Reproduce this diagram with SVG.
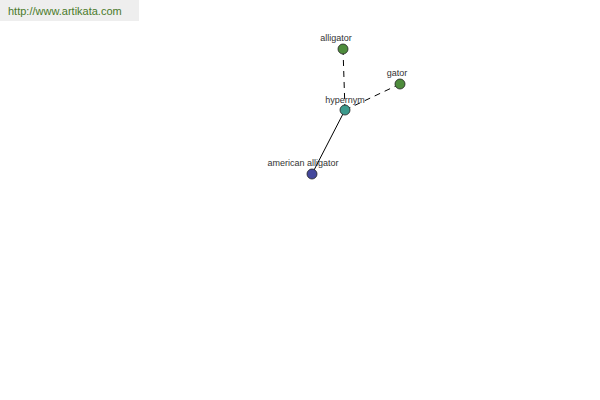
<svg xmlns="http://www.w3.org/2000/svg" width="600" height="400" viewBox="0 0 600 400">
<style>
.lbl{font-family:"Liberation Sans",Arial,sans-serif;font-size:9px;fill:#333;text-anchor:middle}
.node{stroke:#222;stroke-width:0.8}
.e{stroke:#000;stroke-width:1;fill:none}
.d{stroke-dasharray:6,5}
</style>
<rect x="0" y="0" width="139" height="21" fill="#eeeeee"/>
<text x="8" y="15" font-family="Liberation Sans,Arial,sans-serif" font-size="11" fill="#4a7a2a">http://www.artikata.com</text>
<g id="connectors">
<line class="e d" x1="343" y1="49" x2="345" y2="110"/>
<line class="e d" x1="400" y1="84" x2="345" y2="110"/>
<line class="e" x1="345" y1="110" x2="312" y2="174"/>
</g>
<g id="n-alligator"><circle class="node" cx="343" cy="49" r="5" fill="#4e8c3c"/><text class="lbl" x="336" y="41">alligator</text></g>
<g id="n-gator"><circle class="node" cx="400" cy="84" r="5" fill="#4e8c3c"/><text class="lbl" x="397" y="76">gator</text></g>
<g id="n-hypernym"><circle class="node" cx="345" cy="110" r="5" fill="#3c9a8c"/><text class="lbl" x="345" y="103">hypernym</text></g>
<g id="n-american"><circle class="node" cx="312" cy="174" r="5" fill="#44489c"/><text class="lbl" x="303" y="166">american alligator</text></g>
</svg>
